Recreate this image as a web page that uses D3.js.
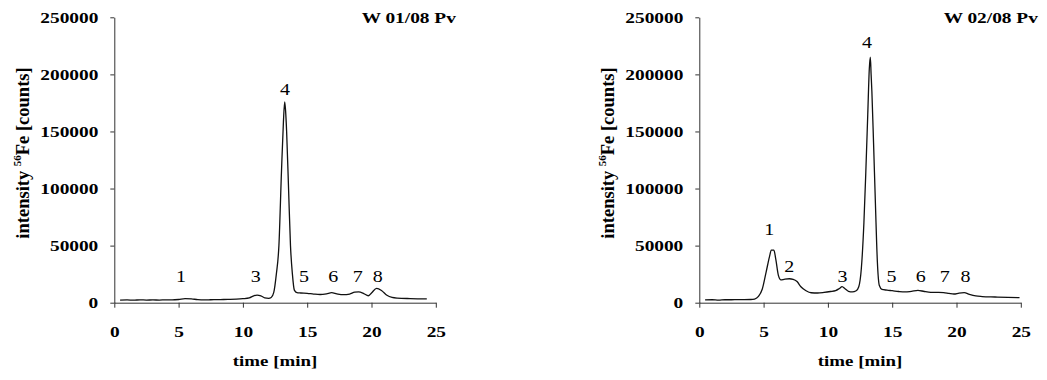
<!DOCTYPE html>
<html>
<head>
<meta charset="utf-8">
<script src="https://cdn.jsdelivr.net/npm/d3@7"></script>
<style>
  body { margin: 0; background: #fff; }
  text { font-family: "Liberation Serif", "Times New Roman", serif; fill: #000; }
</style>
</head>
<body>
<div id="grafico"></div>
<script>
// chromatogram W 01/08 Pv
const time1 = [0.45, 1.0, 1.5, 2.0, 2.5, 3.0, 3.5, 4.0, 4.5, 5.0, 5.5, 6.0, 6.5, 7.0, 7.5, 8.0, 8.5, 9.0, 9.5, 10.0,
               10.5, 10.8, 11.1, 11.4, 11.7, 12.0, 12.2, 12.4, 12.6, 12.8, 13.0, 13.15, 13.25, 13.32, 13.4, 13.55, 13.7, 13.85,
               14.0, 14.2, 14.5, 15.0, 15.5, 16.0, 16.5, 16.9, 17.3, 17.8, 18.3, 18.7, 19.0, 19.4, 19.75, 20.0, 20.4, 20.8,
               21.2, 21.6, 22.0, 23.0, 24.0, 24.3];
const counts1 = [2300, 2400, 2200, 2500, 2300, 2400, 2300, 2500, 2400, 2800, 3600, 3300, 2700, 2500, 2600, 2700, 2800, 2900, 3100, 3500,
                 4200, 5800, 6700, 6000, 4200, 3800, 4500, 9000, 25000, 50000, 115000, 158000, 176000, 168000, 150000, 100000, 50000, 25000,
                 11000, 8800, 8500, 8200, 7600, 7200, 7800, 8800, 7800, 7000, 7600, 9200, 9400, 8000, 6100, 8500, 12600, 10500,
                 6500, 4600, 4000, 3600, 3400, 3400];

// chromatogram W 02/08 Pv
const time2 = [0.45, 1.0, 1.5, 2.0, 2.5, 3.0, 3.5, 4.0, 4.3, 4.6, 4.9, 5.2, 5.45, 5.6, 5.8, 5.95, 6.15, 6.35, 6.6, 7.0,
               7.3, 7.6, 7.9, 8.3, 8.7, 9.2, 9.7, 10.2, 10.6, 10.9, 11.1, 11.35, 11.6, 11.9, 12.2, 12.4, 12.6, 12.8, 12.95,
               13.1, 13.22, 13.3, 13.36, 13.42, 13.55, 13.7, 13.85, 14.0, 14.2, 14.6, 15.0, 15.5, 16.0, 16.5, 17.0, 17.5,
               18.0, 18.5, 19.0, 19.4, 19.8, 20.2, 20.6, 21.0, 21.5, 22.0, 23.0, 24.0, 24.9];
const counts2 = [2400, 2600, 2300, 2600, 2600, 2700, 2700, 2800, 3200, 5500, 12000, 27000, 40000, 46000, 46000, 38000, 24000, 20000, 20500, 21000,
                 20500, 18500, 14000, 10500, 8700, 8500, 9000, 9800, 10600, 12500, 14000, 12000, 10000, 9500, 10500, 14000, 30000, 70000, 115000,
                 165000, 205000, 215000, 200000, 185000, 140000, 85000, 35000, 15000, 11700, 11000, 10500, 9800, 9400, 10000, 10800, 9800,
                 9100, 9000, 8800, 8200, 7600, 8400, 8800, 7300, 5900, 5400, 5000, 4600, 4400];

// peak numbers (label centre in data units)
const peaks1 = ["1", "3", "4", "5", "6", "7", "8"];
const peakTime1 = [5.19, 11.0, 13.27, 14.75, 17.03, 18.93, 20.48];
const peakPos1 = [22800, 22800, 187000, 22800, 22800, 22800, 22800];

const peaks2 = ["1", "2", "3", "4", "5", "6", "7", "8"];
const peakTime2 = [5.44, 7.0, 11.14, 13.05, 14.95, 17.23, 19.09, 20.7];
const peakPos2 = [64300, 31500, 22800, 227800, 22800, 22800, 22800, 22800];

const titles = ["W 01/08 Pv", "W 02/08 Pv"];
const xTicks = [0, 5, 10, 15, 20, 25];
const yTicks = [0, 50000, 100000, 150000, 200000, 250000];

const width = 321.5;
const height = 285.4;
const panelLeft = [114.3, 699.3];
const panelTop = 17.3;
const stretch = "scale(1.29,1)";

const svg = d3.select("#grafico")
              .append("svg")
              .attr("width", 1047)
              .attr("height", 380);

const xScale = d3.scaleLinear()
                 .domain([0, 25])
                 .range([0, width]);

const yScale = d3.scaleLinear()
                 .domain([0, 250000])
                 .range([height, 0]);

const line = d3.line()
               .x(d => xScale(d[0]))
               .y(d => yScale(d[1]))
               .curve(d3.curveMonotoneX);

const panels = [
    { time: time1, counts: counts1, peaks: peaks1, peakTime: peakTime1, peakPos: peakPos1, title: titles[0], titleX: 20 },
    { time: time2, counts: counts2, peaks: peaks2, peakTime: peakTime2, peakPos: peakPos2, title: titles[1], titleX: 17 }
];

panels.forEach((p, i) => {

    const g = svg.append("g")
                 .attr("transform", `translate(${panelLeft[i]}, ${panelTop})`);

    const yAxisCall = d3.axisLeft(yScale)
                        .tickValues(yTicks)
                        .tickFormat(d3.format("d"))
                        .tickSize(4)
                        .tickSizeOuter(0);

    const yAx = g.append("g").call(yAxisCall);
    yAx.selectAll(".tick text")
       .attr("x", null)
       .attr("transform", `translate(-16,0) ${stretch}`)
       .attr("font-size", "15px")
       .attr("font-weight", "bold");

    const xAxisCall = d3.axisBottom(xScale)
                        .tickValues(xTicks)
                        .tickSize(5)
                        .tickPadding(18.5)
                        .tickSizeOuter(0);

    const xAx = g.append("g")
                 .attr("transform", `translate(0, ${height})`)
                 .call(xAxisCall);
    xAx.selectAll(".tick text")
       .attr("transform", stretch)
       .attr("font-size", "15px")
       .attr("font-weight", "bold");

    [yAx, xAx].forEach(a => {
        a.attr("font-family", null);
        a.selectAll(".domain, .tick line").attr("stroke", "#333");
    });

    g.append("path")
     .datum(d3.zip(p.time, p.counts))
     .attr("fill", "none")
     .attr("stroke", "#111")
     .attr("stroke-width", 1.3)
     .attr("d", line);

    g.selectAll(".peak")
     .data(p.peaks)
     .join("text")
     .attr("class", "peak")
     .attr("transform", (d, k) => `translate(${xScale(p.peakTime[k])}, ${yScale(p.peakPos[k])}) scale(1.25,1)`)
     .attr("dy", "0.35em")
     .attr("text-anchor", "middle")
     .attr("font-size", "16px")
     .text(d => d);

    g.append("text")
     .attr("transform", `translate(${width + p.titleX}, 5.4) ${stretch}`)
     .attr("text-anchor", "end")
     .attr("font-size", "15px")
     .attr("font-weight", "bold")
     .text(p.title);

    g.append("text")
     .attr("transform", `translate(${width / 2}, ${366 - panelTop}) scale(1.26,1)`)
     .attr("text-anchor", "middle")
     .attr("font-size", "15px")
     .attr("font-weight", "bold")
     .text("time [min]");

    const yLabel = g.append("text")
                    .attr("transform", `translate(-85, ${153 - panelTop}) rotate(-90)`)
                    .attr("text-anchor", "middle")
                    .attr("font-size", "18.5px")
                    .attr("font-weight", "bold");
    yLabel.append("tspan").text("intensity ");
    yLabel.append("tspan").attr("font-size", "11px").attr("dy", -8).text("56");
    yLabel.append("tspan").attr("dy", 8).text("Fe [counts]");
});
</script>
</body>
</html>
